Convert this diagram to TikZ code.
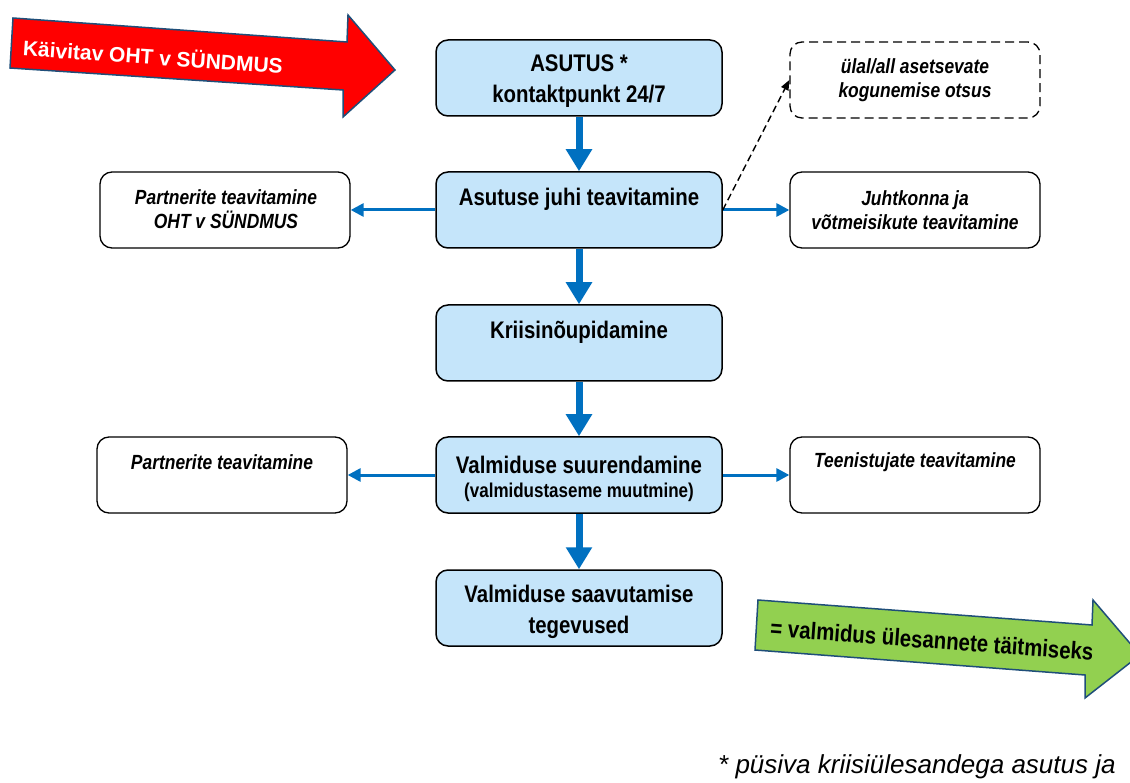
\documentclass[tikz,border=0pt]{standalone}
\usepackage{fontspec}
\setmainfont{Liberation Sans}
\newfontfamily\narrowfont{Liberation Sans}[FakeStretch=0.85]
\usetikzlibrary{arrows.meta}
\definecolor{boxblue}{RGB}{197,229,250}
\definecolor{arrowblue}{RGB}{0,112,192}
\definecolor{edgeblue}{RGB}{31,78,121}
\definecolor{greenfill}{RGB}{146,208,80}
\begin{document}
\begin{tikzpicture}[x=1pt,y=-1pt,
  mainbox/.style={draw=black, line width=1.5pt, fill=boxblue, rounded corners=12pt,
    minimum width=286pt, minimum height=76pt, inner sep=0pt},
  sidebox/.style={draw=black, line width=1.3pt, fill=white, rounded corners=12pt,
    minimum width=250pt, minimum height=76pt, inner sep=0pt},
  dashbox/.style={sidebox, dash pattern=on 9pt off 5pt},
  maintext/.style={align=center, inner sep=0pt, font=\narrowfont\bfseries\fontsize{24}{31}\selectfont},
  subtext/.style={align=center, inner sep=0pt, font=\narrowfont\bfseries\fontsize{20}{25}\selectfont},
  sidetext/.style={align=center, inner sep=0pt, font=\narrowfont\bfseries\itshape\fontsize{20.5}{24.5}\selectfont},
  bigarrow/.style={draw=arrowblue, line width=7pt, -{Triangle[width=25pt,length=22pt]}},
  thinarrow/.style={draw=arrowblue, line width=3pt, -{Triangle[width=13pt,length=13pt]}},
  dasharrow/.style={draw=black, line width=1.4pt, dash pattern=on 7pt off 4pt, -{Triangle[width=8pt,length=10pt]}},
  shapearrow/.style={draw=edgeblue, line width=1.5pt, line join=miter}
]
\useasboundingbox (0,0) rectangle (1130,783);
\clip (0,0) rectangle (1130,783);

% red trigger arrow
\filldraw[shapearrow, fill=red] (13,18) -- (347,42) -- (348,15) -- (395,70) -- (343,117) -- (343,90) -- (10,68) -- cycle;
\node[rotate=-4, text=white, inner sep=0pt, font=\bfseries\fontsize{21}{25}\selectfont] (redtext) at (153,56) {Käivitav OHT v SÜNDMUS};

% green result arrow
\filldraw[shapearrow, fill=greenfill] (758,600) -- (1092,625) -- (1093,600) -- (1140,655) -- (1085,698) -- (1085,675) -- (755,650) -- cycle;
\node[rotate=-4.3, text=black, inner sep=0pt, font=\narrowfont\bfseries\fontsize{24}{28}\selectfont] (greentext) at (932,640) {= valmidus ülesannete täitmiseks};

% main column
\node[mainbox] (b1) at (579,78) {};
\node[maintext] (t1) at (579,81) {ASUTUS *\\kontaktpunkt 24/7};
\node[mainbox] (b2) at (579,210) {};
\node[maintext] (t2) at (579,199) {Asutuse juhi teavitamine};
\node[mainbox] (b3) at (579,343) {};
\node[maintext] (t3) at (579,332) {Kriisinõupidamine};
\node[mainbox] (b4) at (579,475) {};
\node[maintext] (t4) at (579,465) {Valmiduse suurendamine};
\node[subtext] (t4b) at (579,492) {(valmidustaseme muutmine)};
\node[mainbox] (b5) at (579,608) {};
\node[maintext] (t5) at (579,612) {Valmiduse saavutamise\\tegevused};

% side boxes
\node[sidebox] (l1) at (225,210) {};
\node[sidetext] (tl1) at (226,209) {Partnerite teavitamine\\OHT v SÜNDMUS};
\node[sidebox] (r1) at (915,210) {};
\node[sidetext] (tr1) at (915,210) {Juhtkonna ja\\võtmeisikute teavitamine};
\node[sidebox] (l2) at (222,475) {};
\node[sidetext] (tl2) at (222,462) {Partnerite teavitamine};
\node[sidebox] (r2) at (915,475) {};
\node[sidetext] (tr2) at (915,462) {Teenistujate teavitamine};
\node[dashbox] (d1) at (915,80) {};
\node[sidetext] (td1) at (915,80) {ülal/all asetsevate\\kogunemise otsus};

% connectors
\draw[bigarrow] (b1.south) -- (b2.north);
\draw[bigarrow] (b2.south) -- (b3.north);
\draw[bigarrow] (b3.south) -- (b4.north);
\draw[bigarrow] (b4.south) -- (b5.north);
\draw[thinarrow] (b2.west) -- (l1.east);
\draw[thinarrow] (b2.east) -- (r1.west);
\draw[thinarrow] (b4.west) -- (l2.east);
\draw[thinarrow] (b4.east) -- (r2.west);
\draw[dasharrow] (b2.east) -- (d1.west);

% footnote
\node[anchor=base west, inner sep=0pt, font=\itshape\fontsize{26}{30}\selectfont] (note) at (718,773) {* püsiva kriisiülesandega asutus ja};
\end{tikzpicture}
\end{document}
